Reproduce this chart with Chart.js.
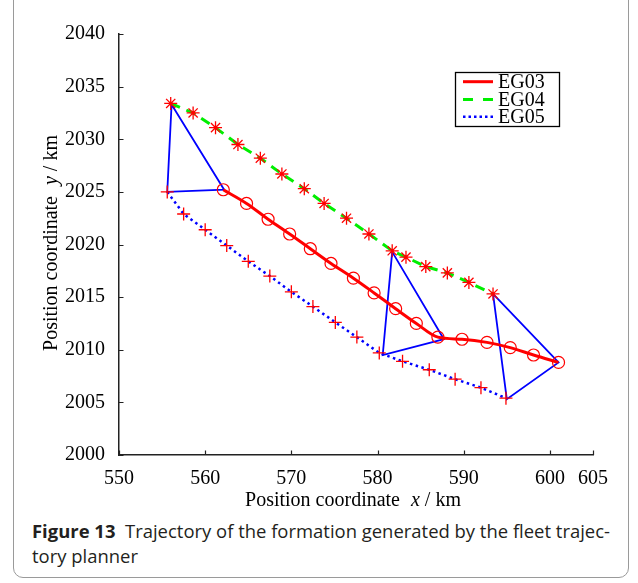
<!DOCTYPE html>
<html>
<head>
<meta charset="utf-8">
<script src="https://cdn.jsdelivr.net/npm/chart.js@4"></script>
<style>
  html, body { margin: 0; padding: 0; background: #fff; width: 638px; height: 583px; overflow: hidden; }
  #frame { position: absolute; left: 13px; top: -20px; width: 616px; height: 598px; border: 1.3px solid #9a9a9a; border-radius: 10px; box-sizing: border-box; }
  #wrap { position: absolute; left: 0; top: 0; width: 638px; height: 515px; }
  #caption { position: absolute; left: 32px; top: 518px; font-family: "Open Sans", "Noto Sans", sans-serif; font-size: 17px; line-height: 25px; color: #231f20; white-space: nowrap; }
  #caption b { font-weight: 700; }
</style>
</head>
<body>
<div id="frame"></div>
<div id="wrap"><canvas id="c" width="638" height="515"></canvas></div>
<div id="caption"><span id="l1"><b>Figure 13</b>&nbsp; Trajectory of the formation generated by the fleet trajec-</span><br><span id="l2">tory planner</span></div>
<script>
// ---- Data ----
const seriesLabels = ["EG03", "EG04", "EG05"];

const eg03X = [562.1, 564.8, 567.3, 569.8, 572.2, 574.6, 577.2, 579.6, 582.1, 584.5, 587.0, 589.8, 592.7, 595.4, 598.1, 601.0];
const eg03Y = [2025.2, 2023.9, 2022.4, 2021.0, 2019.6, 2018.2, 2016.8, 2015.4, 2013.9, 2012.5, 2011.2, 2011.0, 2010.7, 2010.2, 2009.5, 2008.8];

const eg04X = [556.0, 558.6, 561.2, 563.8, 566.4, 568.9, 571.5, 573.8, 576.4, 579.0, 581.7, 583.3, 585.6, 588.1, 590.6, 593.4];
const eg04Y = [2033.4, 2032.5, 2031.1, 2029.5, 2028.2, 2026.7, 2025.3, 2023.9, 2022.5, 2021.0, 2019.4, 2018.8, 2017.9, 2017.3, 2016.4, 2015.3];

const eg05X = [555.6, 557.5, 560.0, 562.5, 565.0, 567.5, 570.0, 572.5, 575.1, 577.6, 580.2, 582.9, 586.0, 589.0, 592.0, 594.9];
const eg05Y = [2025.0, 2022.9, 2021.4, 2019.9, 2018.4, 2017.0, 2015.5, 2014.1, 2012.6, 2011.2, 2009.7, 2008.9, 2008.1, 2007.2, 2006.4, 2005.4];

// formation triangles (EG04 vertex, EG05 vertex, EG03 vertex, back to EG04)
const tri1X = [556.1, 555.6, 562.2, 556.1];
const tri1Y = [2033.3, 2025.0, 2025.2, 2033.3];
const tri2X = [581.7, 580.6, 587.7, 581.7];
const tri2Y = [2019.3, 2009.5, 2011.0, 2019.3];
const tri3X = [593.4, 595.0, 601.0, 593.4];
const tri3Y = [2015.3, 2005.3, 2008.8, 2015.3];

const xTicks = [550, 560, 570, 580, 590, 600, 605];
const yTicks = [2000, 2005, 2010, 2015, 2020, 2025, 2030, 2035, 2040];

const xTitle = ["Position coordinate", "x", "/ km"];
const yTitle = ["Position coordinate", "y", "/ km"];

// ---- build ----
const pts = (xs, ys) => xs.map((x, i) => ({ x: x, y: ys[i] }));
const RED = "#ff0000", GREEN = "#00ee00", BLUE = "#0000ff";
const SERIF = "'Liberation Serif', 'Times New Roman', serif";

const triDs = (xs, ys) => ({
  label: "_tri", data: pts(xs, ys), showLine: true, borderColor: BLUE, borderWidth: 1.8,
  pointRadius: 0, tension: 0, fill: false, order: 4
});

const datasets = [
  { label: seriesLabels[0], data: pts(eg03X, eg03Y), showLine: true, borderColor: RED, borderWidth: 3,
    cubicInterpolationMode: "monotone", pointStyle: "circle", pointRadius: 6, pointBorderWidth: 1.2,
    pointBorderColor: RED, pointBackgroundColor: "rgba(0,0,0,0)", fill: false, order: 1,
    legendDash: [] },
  { label: seriesLabels[1], data: pts(eg04X, eg04Y), showLine: true, borderColor: GREEN, borderWidth: 3,
    borderDash: [10, 7], tension: 0, pointStyle: "star", pointRadius: 6.5, pointBorderWidth: 1.3,
    pointBorderColor: RED, pointBackgroundColor: RED, fill: false, order: 2,
    legendDash: [10, 10] },
  { label: seriesLabels[2], data: pts(eg05X, eg05Y), showLine: true, borderColor: BLUE, borderWidth: 2.5,
    borderDash: [2.5, 3.5], tension: 0, pointStyle: "cross", pointRadius: 6.5, pointBorderWidth: 1.3,
    pointBorderColor: RED, pointBackgroundColor: RED, fill: false, order: 3,
    legendDash: [2.5, 3] },
  triDs(tri1X, tri1Y), triDs(tri2X, tri2Y), triDs(tri3X, tri3Y)
];

const decorPlugin = {
  id: "decor",
  afterDraw(chart) {
    const ctx = chart.ctx, xs = chart.scales.x, ys = chart.scales.y, ca = chart.chartArea;
    ctx.save();
    // inward tick marks
    ctx.strokeStyle = "#222"; ctx.lineWidth = 1.2;
    ctx.beginPath();
    xTicks.forEach(v => { const p = Math.round(xs.getPixelForValue(v)) + 0.5; ctx.moveTo(p, ca.bottom); ctx.lineTo(p, ca.bottom - 4.5); });
    yTicks.forEach(v => { const p = Math.round(ys.getPixelForValue(v)) + 0.5; ctx.moveTo(ca.left, p); ctx.lineTo(ca.left + 4.5, p); });
    ctx.stroke();

    // axis titles with italic variable
    const drawTitle = (parts) => {
      ctx.font = "20px " + SERIF;
      const w0 = ctx.measureText(parts[0] + " ").width;
      ctx.font = "italic 20px " + SERIF;
      const w1 = ctx.measureText(parts[1]).width;
      ctx.font = "20px " + SERIF;
      const w2 = ctx.measureText(" " + parts[2]).width;
      const gap = 6;
      const total = w0 + gap + w1 + w2;
      let x = -total / 2;
      ctx.fillStyle = "#000"; ctx.textAlign = "left"; ctx.textBaseline = "alphabetic";
      ctx.fillText(parts[0] + " ", x, 0); x += w0 + gap;
      ctx.font = "italic 20px " + SERIF; ctx.fillText(parts[1], x, 0); x += w1;
      ctx.font = "20px " + SERIF; ctx.fillText(" " + parts[2], x, 0);
    };
    ctx.save(); ctx.translate(353, 506); drawTitle(xTitle); ctx.restore();
    ctx.save(); ctx.translate(57, 243); ctx.rotate(-Math.PI / 2); drawTitle(yTitle); ctx.restore();

    // legend box
    const bx = 455.5, by = 72.5, bw = 104, bh = 54;
    ctx.fillStyle = "#fff"; ctx.fillRect(bx, by, bw, bh);
    ctx.strokeStyle = "#000"; ctx.lineWidth = 1.3; ctx.strokeRect(bx, by, bw, bh);
    const rows = [81.7, 99.4, 116.8];
    for (let i = 0; i < 3; i++) {
      const ds = chart.data.datasets[i];
      ctx.beginPath();
      ctx.setLineDash(ds.legendDash);
      ctx.strokeStyle = ds.borderColor; ctx.lineWidth = ds.borderWidth;
      ctx.moveTo(463, rows[i]); ctx.lineTo(493, rows[i]); ctx.stroke();
      ctx.setLineDash([]);
      ctx.fillStyle = "#000"; ctx.font = "20px " + SERIF; ctx.textAlign = "left"; ctx.textBaseline = "middle";
      ctx.fillText(ds.label, 498, rows[i] + 1);
    }
    ctx.restore();
  }
};

new Chart(document.getElementById("c"), {
  type: "scatter",
  data: { datasets: datasets },
  options: {
    responsive: false, animation: false, devicePixelRatio: 1,
    layout: { padding: { top: 34, right: 45, left: 0, bottom: 0 } },
    plugins: { legend: { display: false }, tooltip: { enabled: false } },
    scales: {
      x: {
        type: "linear", min: 550, max: 605,
        afterBuildTicks: s => { s.ticks = xTicks.map(v => ({ value: v })); },
        afterFit: s => { s.height = 60; },
        grid: { display: false },
        border: { display: true, color: "#222", width: 1.5 },
        ticks: { color: "#000", font: { family: SERIF, size: 20 }, padding: 4, maxRotation: 0, autoSkip: false, callback: v => String(v) }
      },
      y: {
        type: "linear", min: 2000, max: 2040,
        afterBuildTicks: s => { s.ticks = yTicks.map(v => ({ value: v })); },
        afterFit: s => { s.width = 119; },
        grid: { display: false },
        border: { display: true, color: "#222", width: 1.5 },
        ticks: { color: "#000", font: { family: SERIF, size: 20 }, padding: 6, autoSkip: false, callback: v => String(v) }
      }
    }
  },
  plugins: [decorPlugin]
});

// fit caption first line to reference width by font size
(function () {
  const l1 = document.getElementById("l1"), cap = document.getElementById("caption");
  const w = l1.getBoundingClientRect().width;
  const target = 578;
  const fs = Math.min(19, 17 * target / w);
  cap.style.fontSize = fs.toFixed(2) + "px";
  const w2 = l1.getBoundingClientRect().width;
  cap.style.letterSpacing = ((target - w2) / l1.textContent.length).toFixed(3) + "px";
})();
</script>
</body>
</html>
